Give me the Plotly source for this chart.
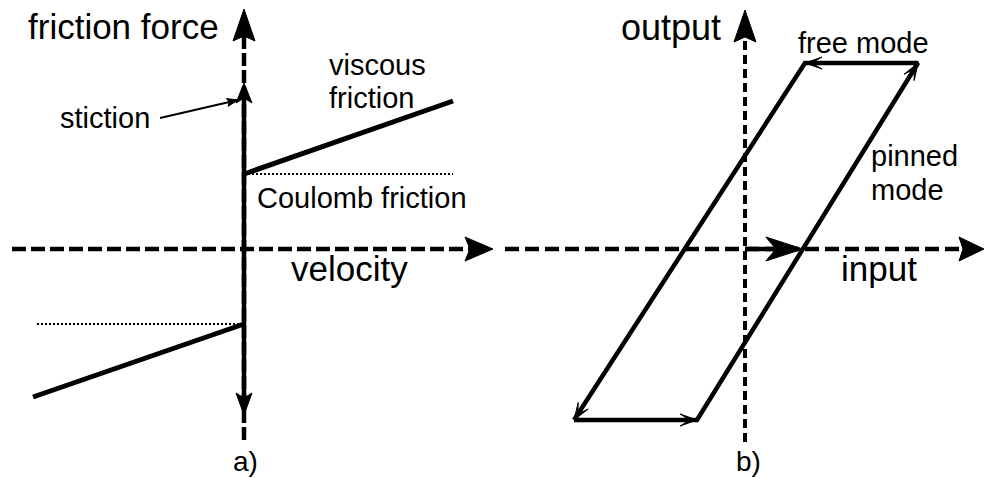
import numpy as np
import plotly.graph_objects as go

# ---------------- panel a: friction force vs velocity ----------------
coulomb_level = 0.75          # Coulomb friction
stiction_level = 1.66         # breakaway (stiction) force
viscous_velocity_pos = [0.0, 2.09]
viscous_force_pos = [0.75, 1.48]
viscous_velocity_neg = [-2.11, 0.0]
viscous_force_neg = [-1.48, -0.75]
coulomb_extent_pos = [0.0, 2.09]
coulomb_extent_neg = [-2.07, 0.0]
velocity_axis = [-2.32, 2.49]   # start, arrow tip
force_axis = [-1.91, 2.40]
stiction_pointer_x = [-0.84, -0.06]
stiction_pointer_y = [1.31, 1.49]

# ---------------- panel b: output vs input hysteresis ----------------
cycle_input = [-1.71, -0.48, 1.73, 0.60, -1.71]
cycle_output = [-1.71, -1.71, 1.86, 1.86, -1.71]
input_axis = [-2.40, 2.39]
output_axis = [-1.93, 2.39]

W_FIG, H_FIG = 988, 478
XR_A = [-2.44, 2.50]
XR_B = [-2.51, 2.43]
YR = [-2.29, 2.49]
PX = (W_FIG / 2) / (XR_A[1] - XR_A[0])   # pixels per unit (same on both axes)

FONT = "Liberation Sans, Arial, sans-serif"

fig = go.Figure()


def add_line(x, y, axes, width, dash="solid"):
    fig.add_trace(go.Scatter(
        x=x, y=y, xaxis=axes[0], yaxis=axes[1], mode="lines",
        line=dict(color="black", width=width, dash=dash),
        hoverinfo="skip", showlegend=False))


def add_head(tip, direction, axes, length, half, notch):
    u = np.asarray(direction, float)
    u = u / np.linalg.norm(u)
    n = np.array([-u[1], u[0]])
    t = np.asarray(tip, float)
    L, W, N = length / PX, half / PX, notch / PX
    pts = [t, t - L * u + W * n, t - (L - N) * u, t - L * u - W * n, t]
    xs = [p[0] for p in pts]
    ys = [p[1] for p in pts]
    fig.add_trace(go.Scatter(
        x=xs, y=ys, xaxis=axes[0], yaxis=axes[1], mode="lines",
        fill="toself", fillcolor="black", line=dict(color="black", width=1),
        hoverinfo="skip", showlegend=False))


A = ("x", "y")
B = ("x2", "y2")

# --- panel a axes ---
add_line([velocity_axis[0], velocity_axis[1] - 22 / PX], [0, 0], A, 4.5, "14px,5px")
add_head([velocity_axis[1], 0], [1, 0], A, 28, 12, 5)
add_line([0, 0], [force_axis[0], force_axis[1] - 26 / PX], A, 4.5, "13px,4px")
add_head([0, force_axis[1]], [0, 1], A, 32, 11, 5)

# stiction: solid vertical segment with arrows at both ends
add_line([0, 0], [-stiction_level + 16 / PX, stiction_level - 16 / PX], A, 4.5)
add_head([0, stiction_level], [0, 1], A, 20, 8, 5)
add_head([0, -stiction_level], [0, -1], A, 22, 8, 5)

# viscous friction branches
add_line(viscous_velocity_pos, viscous_force_pos, A, 5)
add_line(viscous_velocity_neg, viscous_force_neg, A, 5)

# Coulomb friction levels
add_line(coulomb_extent_pos, [coulomb_level, coulomb_level], A, 2, "2px,2px")
add_line(coulomb_extent_neg, [-coulomb_level, -coulomb_level], A, 2, "2px,2px")

# pointer from the "stiction" label
add_line(stiction_pointer_x, stiction_pointer_y, A, 2)
add_head([stiction_pointer_x[1], stiction_pointer_y[1]],
         [stiction_pointer_x[1] - stiction_pointer_x[0],
          stiction_pointer_y[1] - stiction_pointer_y[0]], A, 11, 4, 2)

# --- panel b axes ---
add_line([input_axis[0], input_axis[1] - 18 / PX], [0, 0], B, 4.5, "14px,6px")
add_head([input_axis[1], 0], [1, 0], B, 25, 12, 4)
add_line([0, 0], [output_axis[0], output_axis[1] - 26 / PX], B, 4, "9px,5px")
add_head([0, output_axis[1]], [0, 1], B, 32, 11, 5)

# hysteresis cycle with a direction arrow on each edge
add_line(cycle_input, cycle_output, B, 4.5)
for i in range(len(cycle_input) - 1):
    p0 = np.array([cycle_input[i], cycle_output[i]])
    p1 = np.array([cycle_input[i + 1], cycle_output[i + 1]])
    add_head(p1, p1 - p0, B, 17, 6, 10)

# arrow along the input axis up to where the pinned edge crosses zero output
x0, y0 = cycle_input[1], cycle_output[1]
x1, y1 = cycle_input[2], cycle_output[2]
x_cross = x0 + (0 - y0) / (y1 - y0) * (x1 - x0)
add_line([0, x_cross - 30 / PX], [0, 0], B, 4.5)
add_head([x_cross, 0], [1, 0], B, 37, 12, 10)


def label(text, x, y, size, xref, yref, xanchor="center"):
    return dict(text=text, x=x, y=y, xref=xref, yref=yref, showarrow=False,
                xanchor=xanchor, yanchor="middle", borderpad=0,
                font=dict(family=FONT, size=size, color="black"))


annotations = [
    label("friction force", -1.21, 2.23, 35, "x", "y"),
    label("stiction", -1.39, 1.31, 29, "x", "y"),
    label("viscous", 0.84, 1.84, 29, "x", "y", "left"),
    label("friction", 0.84, 1.51, 29, "x", "y", "left"),
    label("Coulomb friction", 1.175, 0.51, 29, "x", "y"),
    label("velocity", 1.05, -0.19, 35, "x", "y"),
    label("a)", 0.01, -2.12, 28, "x", "y"),
    label("output", -0.74, 2.215, 36, "x2", "y2"),
    label("free mode", 1.18, 2.06, 29, "x2", "y2"),
    label("pinned", 1.25, 0.93, 29, "x2", "y2", "left"),
    label("mode", 1.25, 0.59, 29, "x2", "y2", "left"),
    label("input", 1.34, -0.19, 35, "x2", "y2"),
    label("b)", 0.03, -2.12, 28, "x2", "y2"),
]

hidden = dict(visible=False, showgrid=False, zeroline=False, fixedrange=True)
fig.update_layout(
    width=W_FIG, height=H_FIG,
    margin=dict(l=0, r=0, t=0, b=0, pad=0),
    paper_bgcolor="white", plot_bgcolor="white",
    showlegend=False,
    xaxis=dict(domain=[0, 0.5], range=XR_A, **hidden),
    yaxis=dict(domain=[0, 1], range=YR, **hidden),
    xaxis2=dict(domain=[0.5, 1], range=XR_B, anchor="y2", **hidden),
    yaxis2=dict(domain=[0, 1], range=YR, anchor="x2", **hidden),
    annotations=annotations,
)

fig.write_html("out.html")
